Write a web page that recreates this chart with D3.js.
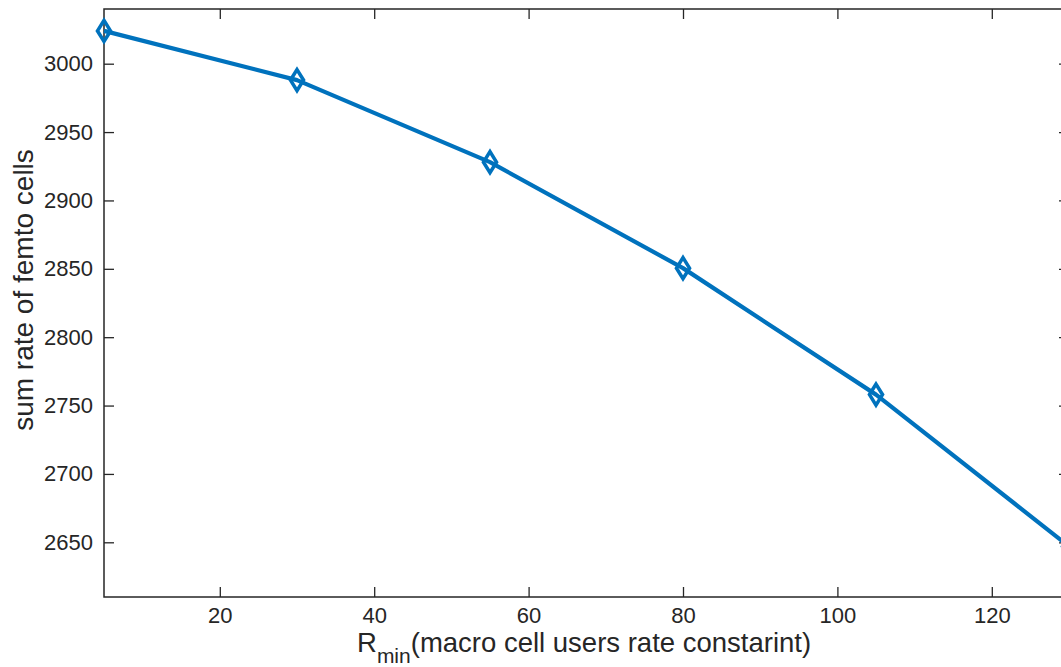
<!DOCTYPE html>
<html>
<head>
<meta charset="utf-8">
<script src="https://d3js.org/d3.v7.min.js"></script>
<style>
  body { margin: 0; background: #fff; }
  svg { display: block; font-family: "Liberation Sans", Arial, sans-serif; }
</style>
</head>
<body>
<svg id="chart" width="1061" height="667"></svg>
<script>
// data
const rMin = [5, 30, 55, 80, 105, 130];
const sumRate = [3024, 2988, 2928, 2850.5, 2758, 2647];
const xTicks = [20, 40, 60, 80, 100, 120];
const yTicks = [2650, 2700, 2750, 2800, 2850, 2900, 2950, 3000];

const svg = d3.select('#chart');
const margin = {left: 104, top: 9};
const w = 965, h = 588;
const axisColor = '#262626';
const lineColor = '#0072BD';

const x = d3.scaleLinear().domain([5, 130]).range([0, w]);
const y = d3.scaleLinear().domain([2610, 3040]).range([h, 0]);

const g = svg.append('g').attr('transform', `translate(${margin.left},${margin.top})`);

g.append('clipPath').attr('id', 'clip')
  .append('rect').attr('x', -14).attr('y', -14).attr('width', w + 28).attr('height', h + 28);

// axes (ticks point inward, like matlab)
function styleAxis(sel, showText) {
  sel.select('.domain').remove();
  sel.selectAll('line').attr('stroke', axisColor).attr('stroke-width', 1.3);
  sel.selectAll('text').attr('fill', axisColor).style('font-size', '22px');
  if (!showText) sel.selectAll('text').remove();
}

g.append('g').attr('transform', `translate(0,${h})`)
  .call(d3.axisBottom(x).tickValues(xTicks).tickSize(-10).tickPadding(10).tickFormat(d3.format('d')))
  .call(s => styleAxis(s, true));
g.append('g')
  .call(d3.axisTop(x).tickValues(xTicks).tickSize(-10))
  .call(s => styleAxis(s, false));
g.append('g')
  .call(d3.axisLeft(y).tickValues(yTicks).tickSize(-10).tickPadding(11).tickFormat(d3.format('d')))
  .call(s => styleAxis(s, true));
g.append('g').attr('transform', `translate(${w},0)`)
  .call(d3.axisRight(y).tickValues(yTicks).tickSize(-10))
  .call(s => styleAxis(s, false));

g.append('rect')
  .attr('width', w).attr('height', h)
  .attr('fill', 'none').attr('stroke', axisColor).attr('stroke-width', 1.5);

// line + diamond markers
const line = d3.line().x((d, i) => x(rMin[i])).y(d => y(d));
const plot = g.append('g').attr('clip-path', 'url(#clip)');
plot.append('path')
  .datum(sumRate)
  .attr('d', line)
  .attr('fill', 'none')
  .attr('stroke', lineColor)
  .attr('stroke-width', 4.2)
  .attr('stroke-linejoin', 'round');

plot.selectAll('.marker')
  .data(sumRate)
  .enter().append('path')
  .attr('class', 'marker')
  .attr('transform', (d, i) => `translate(${x(rMin[i])},${y(d)})`)
  .attr('d', 'M0,-10.5L6.5,0L0,10.5L-6.5,0Z')
  .attr('fill', 'none')
  .attr('stroke', lineColor)
  .attr('stroke-width', 3.6);

// labels
svg.append('text')
  .attr('transform', 'translate(33,290) rotate(-90)')
  .attr('text-anchor', 'middle')
  .attr('fill', axisColor)
  .style('font-size', '28px')
  .text('sum rate of femto cells');

const xl = svg.append('text')
  .attr('x', 357).attr('y', 652)
  .attr('fill', axisColor)
  .style('font-size', '27.5px');
xl.append('tspan').text('R');
xl.append('tspan').attr('dy', 11).style('font-size', '21px').text('min');
xl.append('tspan').attr('dy', -11).text('(macro cell users rate constarint)');
</script>
</body>
</html>
